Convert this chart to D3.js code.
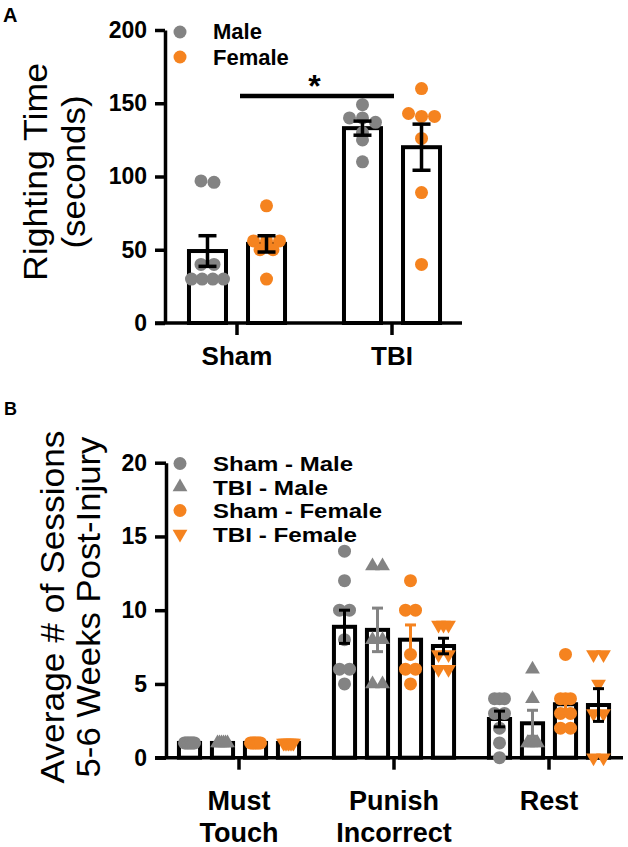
<!DOCTYPE html>
<html><head><meta charset="utf-8">
<script src="https://cdn.jsdelivr.net/npm/d3@7"></script>
<style>
body{margin:0;background:#fff}
svg{display:block}
text{font-family:"Liberation Sans", Arial, Helvetica, sans-serif;fill:#000}
</style></head><body>
<svg id="chart" width="628" height="847"></svg>
<script>
// ---------- Panel A data ----------
const aGroups = ["Sham", "TBI"];
const aSeries = ["Male", "Female"];
const aShamMale   = [97, 96, 40, 40, 30, 30, 30, 30];
const aShamFemale = [80, 56, 56, 56, 50, 50, 30];
const aTbiMale    = [149, 140, 137, 140, 130, 125, 110];
const aTbiFemale  = [160, 143, 141, 141, 126, 89, 40];
const aTicks = [0, 50, 100, 150, 200];
const aSigValue = 155;

// ---------- Panel B data ----------
const bCategories = ["Must Touch", "Punish Incorrect", "Rest"];
const bSeries = ["Sham - Male", "TBI - Male", "Sham - Female", "TBI - Female"];
const bShamMale   = [[1,1,1,1,1,1,1,1], [14,12,10,10,8,6,6,5], [4,4,4,3,3,2,1,0]];
const bTbiMale    = [[1,1,1,1,1,1],     [13,13,8,8,5,5],      [6,4,1,1,1,1]];
const bShamFemale = [[1,1,1,1,1,1,1],   [12,10,10,7,6,6,5],   [7,4,4,4,3,3,2,2]];
const bTbiFemale  = [[1,1,1,1,1,1,1],   [9,9,9,7,7,6,6],      [7,7,5,3,3,0,0]];
const bTicks = [0, 5, 10, 15, 20];

// ---------- styles ----------
const GRAY = "#838383", ORANGE = "#f5831f";
const svg = d3.select("#chart");

function sem(v){ const d = d3.deviation(v); return d ? d / Math.sqrt(v.length) : 0; }

// row-based scatter layout (points of similar value share a row, spread horizontally)
function swarm(values, y, step, maxSpread, tolPx){
  const idx = values.map((v,i)=>i).sort((a,b)=>values[b]-values[a]);
  const rows = [];
  idx.forEach(i=>{
    const last = rows[rows.length-1];
    if (last && Math.abs(y(values[last[0]]) - y(values[i])) < tolPx) last.push(i);
    else rows.push([i]);
  });
  const out = [];
  rows.forEach(r=>{
    const n = r.length, spread = Math.min((n-1)*step, maxSpread);
    r.forEach((i,k)=> out.push({v: values[i], dx: n>1 ? -spread/2 + spread*k/(n-1) : 0}));
  });
  return out;
}

function styleAxis(g, fs){
  g.selectAll("path, line").attr("stroke","#000").attr("stroke-width",3.5);
  g.selectAll("text").style("font-size",fs).style("font-weight","bold").attr("fill","#000");
}

// ================= PANEL A =================
const aY = d3.scaleLinear().domain([0,200]).range([323,30]);
const aX = d3.scaleBand().domain(aGroups).range([159.5,469.5]);
const aXi = d3.scaleBand().domain(aSeries).range([-59,59]).paddingInner(0.373).paddingOuter(0.186);
const aData = [
  {g:"Sham", s:"Male", vals:aShamMale, color:GRAY},
  {g:"Sham", s:"Female", vals:aShamFemale, color:ORANGE},
  {g:"TBI", s:"Male", vals:aTbiMale, color:GRAY},
  {g:"TBI", s:"Female", vals:aTbiFemale, color:ORANGE}
];

svg.append("text").attr("x",3).attr("y",22).style("font-size","20px").style("font-weight","bold").text("A");

// y axis
svg.append("g").attr("transform","translate(165,0)")
  .call(d3.axisLeft(aY).tickValues(aTicks).tickSize(10).tickSizeOuter(0).tickPadding(8))
  .call(g=>styleAxis(g,"23px"));
// x axis
svg.append("line").attr("x1",155).attr("x2",462).attr("y1",aY(0)).attr("y2",aY(0)).attr("stroke","#000").attr("stroke-width",3.5);
svg.append("g").attr("transform",`translate(0,${aY(0)})`)
  .call(d3.axisBottom(aX).tickSize(12).tickSizeOuter(0).tickFormat(""))
  .call(g=>{ g.select(".domain").remove(); styleAxis(g,"23px"); });
aGroups.forEach(gname=>{
  svg.append("text").attr("x",aX(gname)+aX.bandwidth()/2).attr("y",365)
    .attr("text-anchor","middle").style("font-size","26px").style("font-weight","bold").text(gname);
});

// axis title
svg.append("text").attr("transform","translate(47,172) rotate(-90)").attr("text-anchor","middle")
  .style("font-size","33px").attr("textLength",218).attr("lengthAdjust","spacingAndGlyphs").text("Righting Time");
svg.append("text").attr("transform","translate(85,172) rotate(-90)").attr("text-anchor","middle")
  .style("font-size","33px").attr("textLength",153).attr("lengthAdjust","spacingAndGlyphs").text("(seconds)");

// bars
const aBW = aXi.bandwidth();
aData.forEach(d=>{
  const x0 = aX(d.g) + aX.bandwidth()/2 + aXi(d.s);
  const m = d3.mean(d.vals), e = sem(d.vals), cx = x0 + aBW/2;
  svg.append("rect").attr("x",x0).attr("y",aY(m)).attr("width",aBW).attr("height",aY(0)-aY(m))
    .attr("fill","#fff").attr("stroke","#000").attr("stroke-width",4);
  d.m = m; d.e = e; d.cx = cx;
});
aData.forEach(d=>{
  swarm(d.vals, aY, 13, 32, 5).forEach(p=>{
    svg.append("circle").attr("cx",d.cx+p.dx).attr("cy",aY(p.v)).attr("r",6.5).attr("fill",d.color);
  });
});
aData.forEach(d=>{
  const g = svg.append("g").attr("stroke","#000").attr("stroke-width",3.5);
  g.append("line").attr("x1",d.cx).attr("x2",d.cx).attr("y1",aY(d.m-d.e)).attr("y2",aY(d.m+d.e));
  [d.m-d.e, d.m+d.e].forEach(v=> g.append("line").attr("x1",d.cx-9).attr("x2",d.cx+9).attr("y1",aY(v)).attr("y2",aY(v)));
});

// significance
const sx1 = aX("Sham")+aX.bandwidth()/2, sx2 = aX("TBI")+aX.bandwidth()/2;
svg.append("line").attr("x1",sx1+3).attr("x2",sx2+2).attr("y1",aY(aSigValue)).attr("y2",aY(aSigValue))
  .attr("stroke","#000").attr("stroke-width",4.5);
svg.append("text").attr("x",(sx1+sx2)/2).attr("y",aY(aSigValue)+1).attr("text-anchor","middle")
  .style("font-size","32px").style("font-weight","bold").text("*");

// legend A
[{s:"Male",c:GRAY},{s:"Female",c:ORANGE}].forEach((l,i)=>{
  svg.append("circle").attr("cx",180).attr("cy",32+25*i).attr("r",6.5).attr("fill",l.c);
  svg.append("text").attr("x",213).attr("y",38.5+26*i).style("font-size","22px").style("font-weight","bold").text(l.s);
});

// ================= PANEL B =================
const bY = d3.scaleLinear().domain([0,20]).range([757.7,462.7]);
const bX = d3.scaleBand().domain(bCategories).range([161.5,626.5]);
const bXi = d3.scaleBand().domain(bSeries).range([-66,66]).paddingInner(0.36).paddingOuter(0.18);
const bSeriesData = [
  {s:"Sham - Male", vals:bShamMale, color:GRAY, shape:"circle", err:"#000", w:140},
  {s:"TBI - Male", vals:bTbiMale, color:GRAY, shape:"up", err:GRAY, w:115},
  {s:"Sham - Female", vals:bShamFemale, color:ORANGE, shape:"circle", err:ORANGE, w:169},
  {s:"TBI - Female", vals:bTbiFemale, color:ORANGE, shape:"down", err:"#000", w:144}
];

svg.append("text").attr("x",4).attr("y",415).style("font-size","18px").style("font-weight","bold").text("B");

svg.append("g").attr("transform","translate(166,0)")
  .call(d3.axisLeft(bY).tickValues(bTicks).tickSize(11).tickSizeOuter(0).tickPadding(8))
  .call(g=>styleAxis(g,"23px"));
svg.append("line").attr("x1",155).attr("x2",623).attr("y1",bY(0)).attr("y2",bY(0)).attr("stroke","#000").attr("stroke-width",3.5);
svg.append("g").attr("transform",`translate(0,${bY(0)})`)
  .call(d3.axisBottom(bX).tickSize(12).tickSizeOuter(0).tickFormat(""))
  .call(g=>{ g.select(".domain").remove(); styleAxis(g,"23px"); });
bCategories.forEach(c=>{
  const t = svg.append("text").attr("text-anchor","middle").style("font-size","27px").style("font-weight","bold");
  c.split(" ").forEach((w,i)=> t.append("tspan").attr("x",bX(c)+bX.bandwidth()/2).attr("y",810+32*i).text(w));
});

svg.append("text").attr("transform","translate(64,607) rotate(-90)").attr("text-anchor","middle")
  .style("font-size","33px").attr("textLength",353).attr("lengthAdjust","spacingAndGlyphs").text("Average # of Sessions");
svg.append("text").attr("transform","translate(100,607) rotate(-90)").attr("text-anchor","middle")
  .style("font-size","33px").attr("textLength",341).attr("lengthAdjust","spacingAndGlyphs").text("5-6 Weeks Post-Injury");

function marker(sel, shape, x, y, color){
  if (shape==="circle") sel.append("circle").attr("cx",x).attr("cy",y).attr("r",6.5).attr("fill",color);
  else sel.append("path").attr("d",d3.symbol(d3.symbolTriangle,95)())
    .attr("transform",`translate(${x},${y})${shape==="down"?" rotate(180)":""}`).attr("fill",color);
}

const bBW = bXi.bandwidth();
const bItems = [];
bSeriesData.forEach(sd=>{
  bCategories.forEach((c,ci)=>{
    const vals = sd.vals[ci];
    const x0 = bX(c) + bX.bandwidth()/2 + bXi(sd.s);
    bItems.push({sd, vals, x0, cx:x0+bBW/2, m:d3.mean(vals), e:sem(vals)});
  });
});
bItems.forEach(d=>{
  svg.append("rect").attr("x",d.x0).attr("y",bY(d.m)).attr("width",bBW).attr("height",bY(0)-bY(d.m))
    .attr("fill","#fff").attr("stroke","#000").attr("stroke-width",4);
});
bItems.forEach(d=>{
  swarm(d.vals, bY, 10, 10, 5).forEach(p=> marker(svg, d.sd.shape, d.cx+p.dx, bY(p.v), d.sd.color));
});
bItems.forEach(d=>{
  if (d.e===0) return;
  const g = svg.append("g").attr("stroke",d.sd.err).attr("stroke-width",3);
  g.append("line").attr("x1",d.cx).attr("x2",d.cx).attr("y1",bY(d.m-d.e)).attr("y2",bY(d.m+d.e));
  [d.m-d.e, d.m+d.e].forEach(v=> g.append("line").attr("x1",d.cx-5.5).attr("x2",d.cx+5.5).attr("y1",bY(v)).attr("y2",bY(v)));
});

// legend B
bSeriesData.forEach((sd,i)=>{
  marker(svg, sd.shape, 180, 463.5+23.5*i, sd.color);
  svg.append("text").attr("x",213).attr("y",471+23.5*i).style("font-size","20.5px").style("font-weight","bold")
    .attr("textLength",sd.w).attr("lengthAdjust","spacingAndGlyphs").text(sd.s);
});
</script>
</body></html>
